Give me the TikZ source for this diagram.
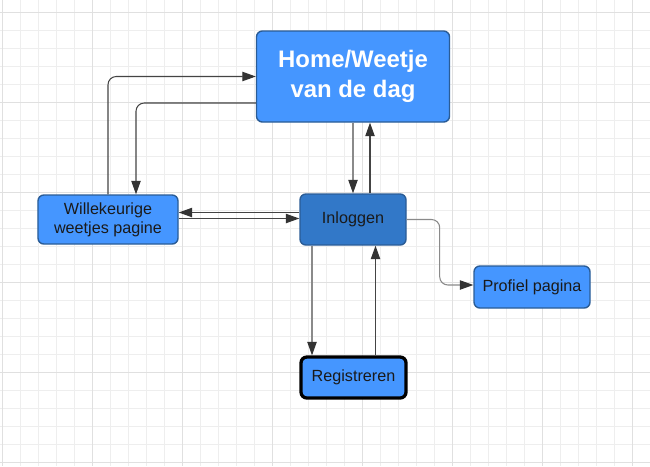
\documentclass[tikz,border=0pt]{standalone}
\usepackage{fontspec}
\setmainfont{Liberation Sans}
\usetikzlibrary{arrows.meta,calc}
\definecolor{wtdBlue}{HTML}{4596FF}
\definecolor{wtdDeep}{HTML}{3278C8}
\definecolor{wtdEdge}{HTML}{2A5C96}
\definecolor{wtdInk}{HTML}{1A1A1A}
\definecolor{wtdLine}{HTML}{444444}
\definecolor{wtdSoft}{HTML}{8A8A8A}
\definecolor{wtdTip}{HTML}{333333}
\definecolor{wtdGrid}{HTML}{EEEEEE}
\definecolor{wtdGridMajor}{HTML}{E0E0E0}
\tikzset{
  wtd grid/.style={draw=wtdGrid, line width=0.8pt},
  wtd grid major/.style={draw=wtdGridMajor, line width=0.8pt},
  wtd box/.style={rectangle, rounded corners=5pt, draw=wtdEdge, fill=wtdBlue, line width=1.2pt, inner sep=0pt, align=center, text=wtdInk, font=\fontsize{13.8}{16}\selectfont},
  wtd home/.style={wtd box, text=white, font=\fontsize{20.4}{25.5}\selectfont\bfseries},
  wtd login/.style={wtd box, fill=wtdDeep},
  wtd heavy/.style={wtd box, draw=black, line width=2.8pt},
  wtd link/.style={draw=wtdLine, line width=0.9pt, rounded corners=7pt, -{Triangle[length=11.5pt,width=8pt,color=wtdTip]}},
  wtd soft link/.style={wtd link, draw=wtdSoft},
}

\begin{document}
\begin{tikzpicture}[x=0.03cm,y=-0.03cm]
  \useasboundingbox (0,0) rectangle (650,466);
  \fill[white] (0,0) rectangle (650,466);
  % grid
  \foreach \x in {2.7,20.7,...,650}{\draw[wtd grid] (\x,0)--(\x,466);}
  \foreach \y in {12.7,30.7,...,466}{\draw[wtd grid] (0,\y)--(650,\y);}
  \foreach \x in {2.7,92.7,...,650}{\draw[wtd grid major] (\x,0)--(\x,466);}
  \foreach \y in {12.7,102.7,...,466}{\draw[wtd grid major] (0,\y)--(650,\y);}
  % pages
  \node[wtd home, minimum width=5.79cm, minimum height=2.73cm] (home) at (353,76.5) {Home/Weetje\\van de dag};
  \node[wtd box, minimum width=4.2cm, minimum height=1.47cm] (random) at (108,219.5) {Willekeurige\\weetjes pagine};
  \node[wtd login, minimum width=3.18cm, minimum height=1.53cm] (login) at (353,219.5) {Inloggen};
  \node[wtd box, minimum width=3.48cm, minimum height=1.26cm] (profile) at (532,287) {Profiel pagina};
  \node[wtd heavy, minimum width=3.15cm, minimum height=1.23cm] (register) at (353.5,377.5) {Registreren};
  % links
  \draw[wtd link] (random.north) |- (home.west);
  \draw[wtd link] ($(home.west)+(0,26.5)$) -| ($(random.north)+(28,0)$);
  \draw[wtd soft link] (home.south) -- (login.north);
  \draw[wtd link] ($(login.north)+(17,0)$) -- ($(home.south)+(17,0)$);
  \draw[wtd link] ($(login.west)+(0,-7)$) -- ($(random.east)+(0,-7)$);
  \draw[wtd link] ($(random.east)+(0,-1)$) -- ($(login.west)+(0,-1)$);
  \draw[wtd soft link] (login.east) -- ++(33,0) |- ($(profile.west)+(0,-2)$);
  \draw[wtd soft link] ($(login.south)+(-41,0)$) -- ($(register.north)+(-41.5,0)$);
  \draw[wtd link] ($(register.north)+(22,0)$) -- ($(login.south)+(22.5,0)$);
\end{tikzpicture}
\end{document}
